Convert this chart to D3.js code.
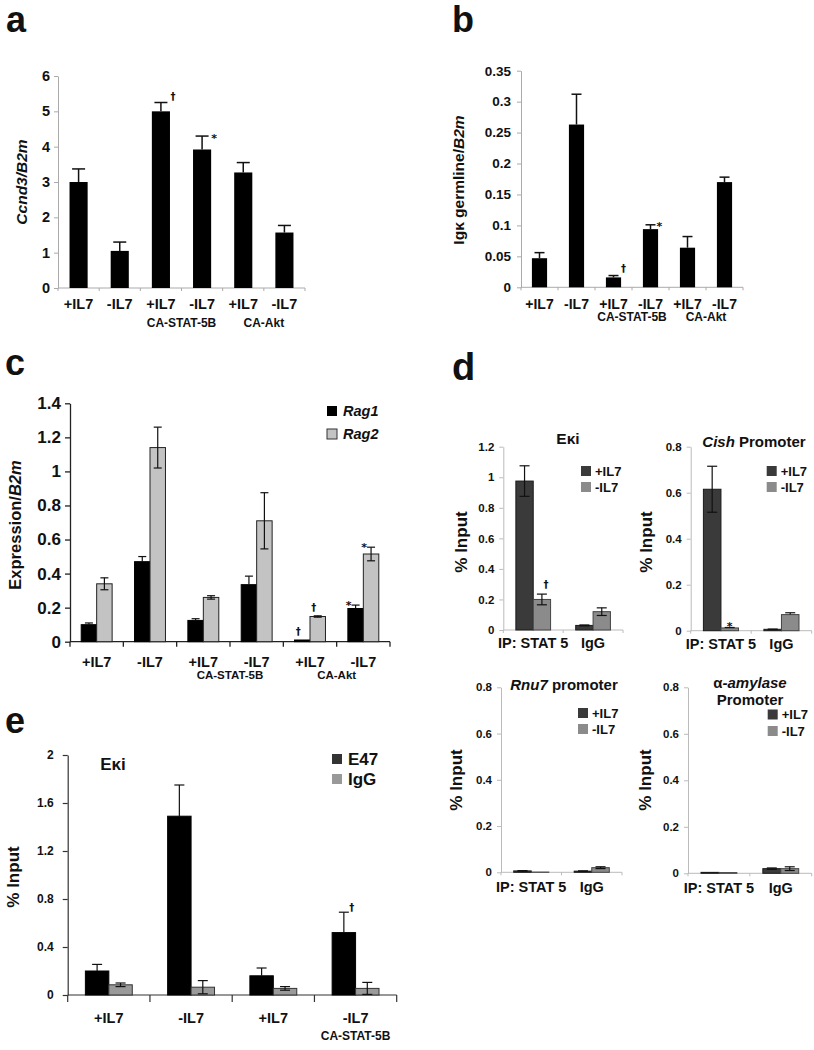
<!DOCTYPE html>
<html><head><meta charset="utf-8">
<script src="https://cdn.jsdelivr.net/npm/d3@7"></script>
<style>body{margin:0;background:#fff}</style>
</head><body><svg id="chart" width="814" height="1050"></svg>
<script>
// ---------------- DATA ----------------
const condLabels = ["+IL7","-IL7","+IL7","-IL7","+IL7","-IL7"];
const constructLabels = ["CA-STAT-5B","CA-Akt"];
const constructSpans = [[2,3],[4,5]];

// panel a
const ccnd3Mean = [3.0,1.05,5.0,3.92,3.27,1.57];
const ccnd3Err  = [0.37,0.25,0.25,0.38,0.28,0.2];
const ccnd3Marks = ["","","†","*","",""];
const ccnd3Ticks = [0,1,2,3,4,5,6];

// panel b
const igkMean = [0.047,0.263,0.016,0.094,0.064,0.17];
const igkErr  = [0.009,0.049,0.003,0.007,0.018,0.008];
const igkMarks = ["","","†","*","",""];
const igkTicks = [0,0.05,0.1,0.15,0.2,0.25,0.3,0.35];

// panel c
const ragSeries = ["Rag1","Rag2"];
const rag1Mean = [0.1,0.47,0.125,0.335,0.01,0.195];
const rag1Err  = [0.01,0.03,0.01,0.05,0,0.02];
const rag1Marks = ["","","","","†","*"];
const rag2Mean = [0.34,1.14,0.26,0.71,0.148,0.515];
const rag2Err  = [0.035,0.12,0.01,0.165,0.004,0.04];
const rag2Marks = ["","","","","†","*"];
const ragTicks = [0,0.2,0.4,0.6,0.8,1,1.2,1.4];

// panel d
const chipCats = ["IP: STAT 5","IgG"];
const il7Series = ["+IL7","-IL7"];
const ekiPlus = [0.975,0.03],  ekiPlusErr = [0.1,0.003];
const ekiMinus = [0.2,0.12],   ekiMinusErr = [0.035,0.025];
const ekiMinusMarks = ["†",""];
const ekiTicks = [0,0.2,0.4,0.6,0.8,1,1.2];
const cishPlus = [0.615,0.006], cishPlusErr = [0.1,0.001];
const cishMinus = [0.012,0.07], cishMinusErr = [0.002,0.008];
const cishMinusMarks = ["*",""];
const rnu7Plus = [0.006,0.005], rnu7PlusErr = [0.001,0.001];
const rnu7Minus = [0.001,0.02], rnu7MinusErr = [0,0.004];
const amyPlus = [0.004,0.02], amyPlusErr = [0,0.003];
const amyMinus = [0.003,0.02], amyMinusErr = [0,0.008];
const chipTicks = [0,0.2,0.4,0.6,0.8];

// panel e
const eCats = ["+IL7","-IL7","+IL7","-IL7"];
const eSeries = ["E47","IgG"];
const e47Mean = [0.2,1.49,0.16,0.52];
const e47Err  = [0.055,0.26,0.065,0.17];
const e47Marks = ["","","","†"];
const eIgGMean = [0.085,0.065,0.055,0.055];
const eIgGErr  = [0.015,0.055,0.015,0.05];
const eTicks = [0,0.4,0.8,1.2,1.6,2];

// ---------------- DRAWING ----------------
const FONT = '"Liberation Sans", Arial, Helvetica, sans-serif';
const MARKFONT = '"DejaVu Sans", "Liberation Sans", sans-serif';
const svg = d3.select("#chart").attr("font-family", FONT);

function richText(sel, parts) {
  parts.forEach(p => sel.append("tspan").text(p.t).attr("font-style", p.i ? "italic" : "normal"));
}

function barPanel(c) {
  const g = svg.append("g");
  const n = c.cats.length;
  const x = d3.scaleBand().domain(d3.range(n)).range([c.left, c.right])
    .paddingInner(c.pad).paddingOuter(c.pad / 2);
  const xs = d3.scaleBand().domain(d3.range(c.series.length)).range([0, x.bandwidth()]);
  const y = d3.scaleLinear().domain([0, c.yMax]).range([c.bottom, c.top]);

  // y axis
  const ax = d3.axisLeft(y).tickValues(c.ticks).tickFormat(c.fmt || (d => d))
    .tickSize(c.tickLen).tickSizeOuter(0).tickPadding(c.tickPad);
  const yg = g.append("g").attr("transform", `translate(${c.left},0)`).call(ax);
  yg.attr("font-family", FONT).attr("font-size", c.tickFont).attr("font-weight", "bold");
  yg.select(".domain").attr("stroke", c.axisColor).attr("stroke-width", c.axisW);
  yg.selectAll(".tick line").attr("stroke", c.axisColor).attr("stroke-width", c.axisW);
  yg.selectAll(".tick text").attr("fill", "#111");

  // x axis
  const step = x.step(), gap = step - x.bandwidth();
  const edges = d3.range(n + 1).map(i => (i < n ? x(i) : x(n - 1) + step) - gap / 2);
  g.append("line").attr("x1", edges[0]).attr("x2", edges[n])
    .attr("y1", c.bottom).attr("y2", c.bottom)
    .attr("stroke", c.axisColor).attr("stroke-width", c.axisW);
  g.append("g").selectAll("line").data(edges).join("line")
    .attr("x1", d => d).attr("x2", d => d)
    .attr("y1", c.bottom).attr("y2", c.bottom + c.xTickLen)
    .attr("stroke", c.axisColor).attr("stroke-width", c.axisW);

  // bars
  c.series.forEach((s, si) => {
    const bx = i => x(i) + xs(si);
    const bw = xs.bandwidth();
    g.append("g").selectAll("rect").data(s.values).join("rect")
      .attr("x", (d, i) => bx(i)).attr("width", bw)
      .attr("y", d => y(d)).attr("height", d => c.bottom - y(d))
      .attr("fill", s.fill).attr("stroke", s.stroke || "none").attr("stroke-width", s.strokeW || 1);
    const eg = g.append("g").attr("stroke", c.errColor || "#111").attr("stroke-width", c.errW || 1.3);
    s.values.forEach((v, i) => {
      const e = s.errs[i];
      const cx = bx(i) + bw / 2;
      if (e) {
        const lo = s.both ? v - e : v;
        eg.append("line").attr("x1", cx).attr("x2", cx).attr("y1", y(lo)).attr("y2", y(v + e));
        eg.append("line").attr("x1", cx - c.capW / 2).attr("x2", cx + c.capW / 2).attr("y1", y(v + e)).attr("y2", y(v + e));
        if (s.both) eg.append("line").attr("x1", cx - c.capW / 2).attr("x2", cx + c.capW / 2).attr("y1", y(v - e)).attr("y2", y(v - e));
      }
      if (s.marks && s.marks[i]) {
        const m = s.marks[i];
        const o = m === "*" ? c.starOff : c.daggerOff;
        g.append("text").attr("x", cx + o[0]).attr("y", y(v + (e || 0)) + o[1])
          .attr("font-family", MARKFONT)
          .attr("font-size", o[2]).attr("font-weight", "bold").attr("text-anchor", "middle").attr("fill", "#111")
          .text(m);
      }
    });
  });

  // category labels
  g.append("g").selectAll("text").data(c.cats).join("text")
    .attr("x", (d, i) => x(i) + x.bandwidth() / 2).attr("y", c.catY)
    .attr("text-anchor", "middle").attr("font-size", c.catFont).attr("font-weight", "bold").attr("fill", "#111")
    .text(d => d);
  if (c.groups) {
    g.append("g").selectAll("text").data(c.groups).join("text")
      .attr("x", (d, k) => (x(c.groupSpans[k][0]) + x(c.groupSpans[k][1])) / 2 + x.bandwidth() / 2)
      .attr("y", c.groupY)
      .attr("text-anchor", "middle").attr("font-size", c.groupFont).attr("font-weight", "bold").attr("fill", "#111")
      .text(d => d);
  }

  // y label
  const yl = g.append("text")
    .attr("transform", `translate(${c.ylab.x},${c.ylab.y}) rotate(-90)`)
    .attr("text-anchor", "middle").attr("font-size", c.ylab.size).attr("font-weight", "bold").attr("fill", "#111");
  richText(yl, c.ylab.parts);

  // title
  if (c.title) {
    c.title.lines.forEach((ln, li) => {
      const t = g.append("text").attr("x", c.title.x).attr("y", c.title.y + li * c.title.lh)
        .attr("text-anchor", "middle").attr("font-size", c.title.size).attr("font-weight", "bold").attr("fill", "#111");
      richText(t, ln);
    });
  }

  // legend
  if (c.legend) {
    const L = c.legend;
    c.series.forEach((s, si) => {
      const yy = L.y + si * L.dy;
      g.append("rect").attr("x", L.x).attr("y", yy - L.box / 2).attr("width", L.box).attr("height", L.box)
        .attr("fill", s.legendFill || s.fill).attr("stroke", s.legendStroke || "none");
      g.append("text").attr("x", L.x + L.box + L.gap).attr("y", yy + L.size * 0.36)
        .attr("font-size", L.size).attr("font-weight", "bold").attr("font-style", L.italic ? "italic" : "normal")
        .attr("fill", "#111").text(s.name);
    });
  }
}

function letter(t, x, y, size) {
  svg.append("text").attr("x", x).attr("y", y).attr("font-size", size || 36)
    .attr("font-weight", "bold").attr("fill", "#111").text(t);
}

// ---- panel a
letter("a", 6, 32);
barPanel({
  cats: condLabels, groups: constructLabels, groupSpans: constructSpans,
  left: 58, right: 305, top: 76, bottom: 288, yMax: 6, ticks: ccnd3Ticks,
  pad: 0.56, tickLen: 4, tickPad: 4, tickFont: 14.5, axisColor: "#aaa", axisW: 1, xTickLen: 3,
  series: [{ name: "Ccnd3", values: ccnd3Mean, errs: ccnd3Err, marks: ccnd3Marks, fill: "#000" }],
  capW: 13, errW: 1.5, daggerOff: [12, -3, 10], starOff: [12, 6, 11],
  catY: 309, catFont: 14.5, groupY: 327, groupFont: 12,
  ylab: { x: 27, y: 182, size: 15.5, parts: [{ t: "Ccnd3/B2m", i: true }] }
});

// ---- panel b
letter("b", 452, 32);
barPanel({
  cats: condLabels, groups: constructLabels, groupSpans: constructSpans,
  left: 521, right: 743, top: 70.7, bottom: 287.3, yMax: 0.35, ticks: igkTicks,
  pad: 0.59, tickLen: 4, tickPad: 6, tickFont: 13.5, axisColor: "#aaa", axisW: 1, xTickLen: 3,
  series: [{ name: "Igk", values: igkMean, errs: igkErr, marks: igkMarks, fill: "#000" }],
  capW: 10, errW: 1.5, daggerOff: [10, -4, 10], starOff: [9, 5, 11],
  catY: 308.5, catFont: 14, groupY: 320.5, groupFont: 12,
  ylab: { x: 464, y: 180, size: 15.5, parts: [{ t: "Igκ germline/" }, { t: "B2m", i: true }] }
});

// ---- panel c
letter("c", 5, 375);
barPanel({
  cats: condLabels, groups: constructLabels, groupSpans: constructSpans,
  left: 70, right: 390, top: 403.3, bottom: 641.7, yMax: 1.4, ticks: ragTicks,
  pad: 0.42, tickLen: 5, tickPad: 4, tickFont: 17, axisColor: "#222", axisW: 1.3, xTickLen: 5,
  series: [
    { name: "Rag1", values: rag1Mean, errs: rag1Err, marks: rag1Marks, fill: "#000", stroke: "#000", legendFill: "#000" },
    { name: "Rag2", values: rag2Mean, errs: rag2Err, marks: rag2Marks, fill: "#c3c3c3", stroke: "#222", both: true, legendStroke: "#333" }
  ],
  capW: 8, errW: 1.2, daggerOff: [-4, -5, 10], starOff: [-7, 4, 11],
  catY: 667, catFont: 14.5, groupY: 679, groupFont: 11.5,
  ylab: { x: 21, y: 525, size: 16.5, parts: [{ t: "Expression/" }, { t: "B2m", i: true }] },
  legend: { x: 327, y: 411, dy: 23, box: 10, gap: 6, size: 14.5, italic: true }
});

// ---- panel d
letter("d", 452, 380, 38);
const dColors = [
  { fill: "#3a3a3a", stroke: "#1a1a1a" },
  { fill: "#8b8b8b", stroke: "#444" }
];
const dCommon = {
  cats: chipCats, pad: 0.42, tickLen: 4, tickPad: 5, tickFont: 11.5, axisColor: "#bbb", axisW: 1, xTickLen: 3,
  capW: 10, errW: 1.2, daggerOff: [4, -6, 10], starOff: [0, 3, 11],
  catFont: 14.5
};
barPanel(Object.assign({}, dCommon, {
  left: 503.3, right: 623, top: 446.7, bottom: 630, yMax: 1.2, ticks: ekiTicks,
  series: [
    Object.assign({ name: il7Series[0], values: ekiPlus, errs: ekiPlusErr, both: true }, dColors[0]),
    Object.assign({ name: il7Series[1], values: ekiMinus, errs: ekiMinusErr, marks: ekiMinusMarks, both: true }, dColors[1])
  ],
  catY: 648,
  ylab: { x: 467, y: 542, size: 17, parts: [{ t: "% Input" }] },
  title: { x: 568, y: 444, size: 15.5, lh: 16, lines: [[{ t: "Eκi" }]] },
  legend: { x: 581, y: 471, dy: 16, box: 10, gap: 4, size: 13 }
}));
barPanel(Object.assign({}, dCommon, {
  left: 690.7, right: 811.7, top: 446.7, bottom: 630.7, yMax: 0.8, ticks: chipTicks,
  series: [
    Object.assign({ name: il7Series[0], values: cishPlus, errs: cishPlusErr, both: true }, dColors[0]),
    Object.assign({ name: il7Series[1], values: cishMinus, errs: cishMinusErr, marks: cishMinusMarks }, dColors[1])
  ],
  catY: 649,
  ylab: { x: 652, y: 542, size: 17, parts: [{ t: "% Input" }] },
  title: { x: 754, y: 447, size: 15, lh: 16, lines: [[{ t: "Cish", i: true }, { t: " Promoter" }]] },
  legend: { x: 766.7, y: 471, dy: 16, box: 10, gap: 4, size: 13 }
}));
barPanel(Object.assign({}, dCommon, {
  left: 501, right: 622, top: 687.3, bottom: 872.3, yMax: 0.8, ticks: chipTicks,
  series: [
    Object.assign({ name: il7Series[0], values: rnu7Plus, errs: rnu7PlusErr, both: true }, dColors[0]),
    Object.assign({ name: il7Series[1], values: rnu7Minus, errs: rnu7MinusErr, both: true }, dColors[1])
  ],
  catY: 891.5,
  ylab: { x: 462, y: 780, size: 17, parts: [{ t: "% Input" }] },
  title: { x: 564, y: 690, size: 15, lh: 16, lines: [[{ t: "Rnu7", i: true }, { t: " promoter" }]] },
  legend: { x: 578, y: 713, dy: 16, box: 10, gap: 4, size: 13 }
}));
barPanel(Object.assign({}, dCommon, {
  left: 688, right: 811.7, top: 687.3, bottom: 873.3, yMax: 0.8, ticks: chipTicks,
  series: [
    Object.assign({ name: il7Series[0], values: amyPlus, errs: amyPlusErr, both: true }, dColors[0]),
    Object.assign({ name: il7Series[1], values: amyMinus, errs: amyMinusErr, both: true }, dColors[1])
  ],
  catY: 892.5,
  ylab: { x: 651, y: 780, size: 17, parts: [{ t: "% Input" }] },
  title: { x: 750, y: 688, size: 15, lh: 17, lines: [[{ t: "α" }, { t: "-amylase", i: true }], [{ t: "Promoter" }]] },
  legend: { x: 767.7, y: 714.5, dy: 16.5, box: 10, gap: 4, size: 13 }
}));

// ---- panel e
letter("e", 5, 733);
barPanel({
  cats: eCats, groups: [constructLabels[0]], groupSpans: [[3, 3]],
  left: 67.7, right: 396.7, top: 755, bottom: 995, yMax: 2, ticks: eTicks,
  pad: 0.43, tickLen: 5, tickPad: 9, tickFont: 12, axisColor: "#333", axisW: 1.2, xTickLen: 7,
  series: [
    { name: "E47", values: e47Mean, errs: e47Err, marks: e47Marks, fill: "#000", stroke: "#000", legendFill: "#333" },
    { name: "IgG", values: eIgGMean, errs: eIgGErr, fill: "#9a9a9a", stroke: "#333", both: true, legendFill: "#999" }
  ],
  capW: 10, errW: 1.2, daggerOff: [8, -1, 10], starOff: [0, 0, 10],
  catY: 1023, catFont: 14.5, groupY: 1040, groupFont: 12,
  ylab: { x: 19, y: 877, size: 17, parts: [{ t: "% Input" }] },
  title: { x: 113, y: 770, size: 17, lh: 16, lines: [[{ t: "Eκi" }]] },
  legend: { x: 332, y: 759, dy: 20, box: 10, gap: 6, size: 17 }
});
</script>
</body></html>
